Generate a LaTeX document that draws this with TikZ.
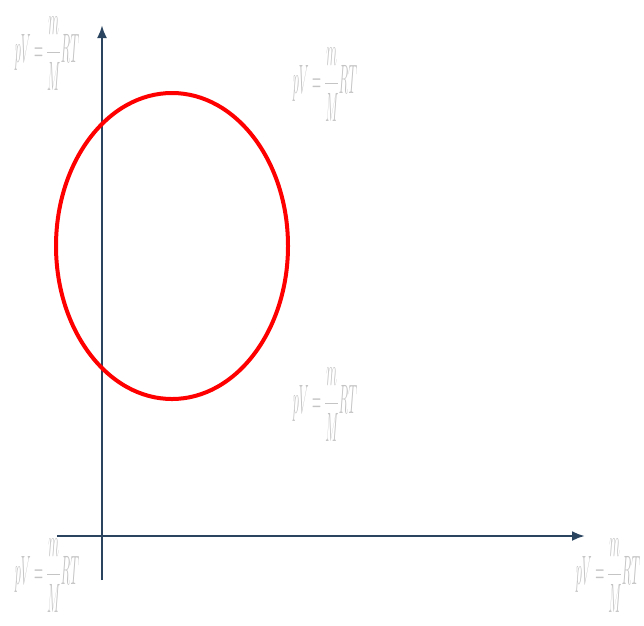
\documentclass[tikz,border=0pt]{standalone}
\usepackage{xcolor}
\usepackage{tikz}
\usetikzlibrary{positioning,arrows.meta,calc}
\definecolor{axisc}  {HTML}{2A4460}
\definecolor{curvec} {HTML}{FF0000}
\definecolor{faint}  {HTML}{C4C4C4}
\tikzset{
  axis/.style  = {-{Latex[length=13pt,width=10pt]}, draw=axisc, line width=2.5pt},
  curve/.style = {draw=curvec, line width=4pt},
  gaslaw/.style = {text=faint, inner sep=0pt, xscale=0.5, yscale=1.65, transform shape,
                   font=\fontsize{26}{30}\selectfont},
}
\newcommand{\gaslawtext}{$\displaystyle pV=\frac{m}{M}RT$}

\begin{document}
\begin{tikzpicture}[x=1pt, y=-1pt]
  \useasboundingbox (0,0) rectangle (644,625);

  % axes
  \coordinate (yfoot) at (102,580);
  \coordinate (ytip)  at (102,25);
  \coordinate (xfoot) at (57,536);
  \coordinate (xtip)  at (585,536);
  \draw[axis] (yfoot) -- (ytip);
  \draw[axis] (xfoot) -- (xtip);

  % ellipse
  \coordinate (centre) at (172,246);
  \draw[curve] (centre) ellipse [x radius=116pt, y radius=153pt];

  % labels
  \node[gaslaw] (lawtl) at (47,54)  {\gaslawtext};
  \node[gaslaw] (lawtr) at (325,85) {\gaslawtext};
  \node[gaslaw] (lawmd) at (325,405) {\gaslawtext};
  \node[gaslaw] (lawbl) at (47,576) {\gaslawtext};
  \node[gaslaw] (lawbr) at (608,576) {\gaslawtext};
\end{tikzpicture}
\end{document}
